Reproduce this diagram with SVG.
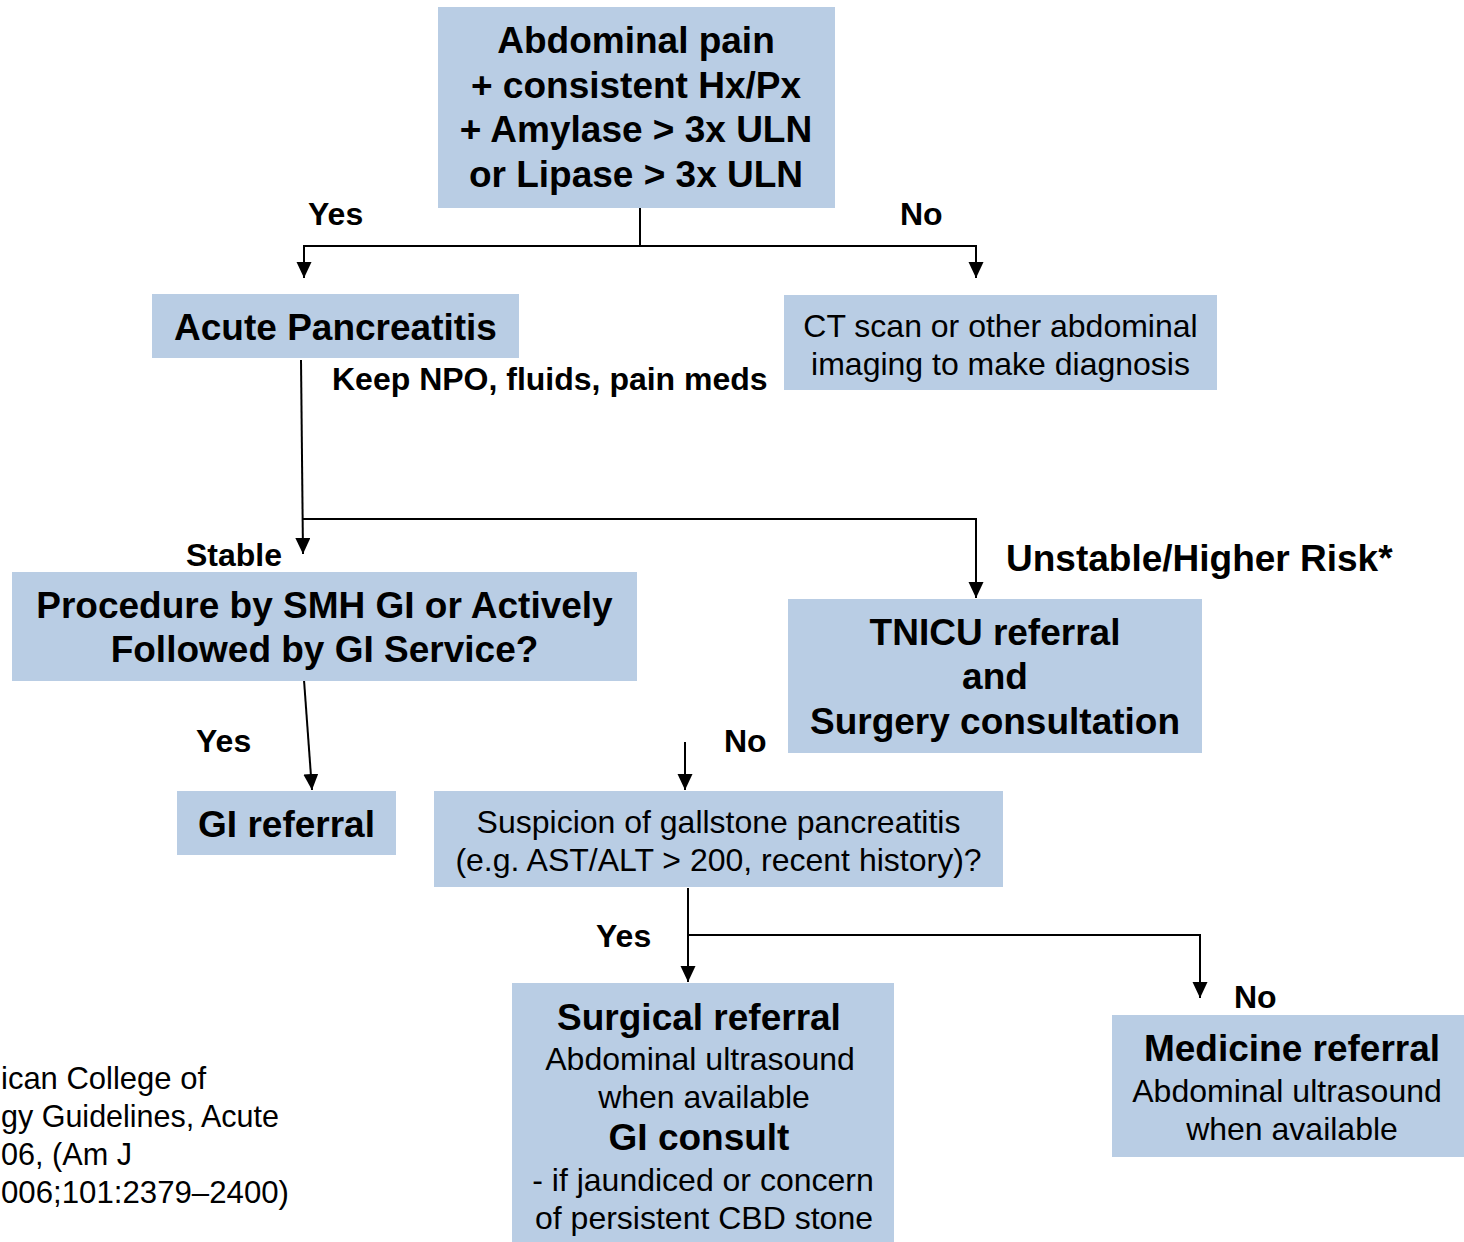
<svg xmlns="http://www.w3.org/2000/svg" width="1464" height="1242" viewBox="0 0 1464 1242">
<style>
.box{fill:#b9cde4}
.b{font-family:"Liberation Sans",Arial,sans-serif;font-weight:bold;font-size:37px;fill:#000;text-anchor:middle}
.n{font-family:"Liberation Sans",Arial,sans-serif;font-size:32px;fill:#000;text-anchor:middle}
.lbl{font-family:"Liberation Sans",Arial,sans-serif;font-weight:bold;font-size:32px;fill:#000}
.ref{font-family:"Liberation Sans",Arial,sans-serif;font-size:32px;fill:#000}
.c{fill:none;stroke:#000;stroke-width:2}
</style>
<defs>
<marker id="ah" markerUnits="userSpaceOnUse" markerWidth="17" markerHeight="18" refX="16" refY="7.5" orient="auto">
<path d="M0,0 L16,7.5 L0,15 Z" fill="#000"/>
</marker>
</defs>
<rect width="1464" height="1242" fill="#fff"/>
<g id="connectors">
<polyline class="c" points="640,200 640,246"/>
<polyline class="c" points="640,246 304,246 304,278" marker-end="url(#ah)"/>
<polyline class="c" points="640,246 976,246 976,278" marker-end="url(#ah)"/>
<polyline class="c" points="301,360 303,554" marker-end="url(#ah)"/>
<polyline class="c" points="303,519 976,519 976,598" marker-end="url(#ah)"/>
<polyline class="c" points="304,680 312,790" marker-end="url(#ah)"/>
<polyline class="c" points="685,742 685,790" marker-end="url(#ah)"/>
<polyline class="c" points="688,888 688,982" marker-end="url(#ah)"/>
<polyline class="c" points="688,935 1200,935 1200,998" marker-end="url(#ah)"/>
</g>
<g id="n-abdominal">
<rect class="box" x="438" y="7" width="397" height="201"/>
<text class="b" x="636" y="53">Abdominal pain</text>
<text class="b" x="636" y="98">+ consistent Hx/Px</text>
<text class="b" x="636" y="142">+ Amylase &gt; 3x ULN</text>
<text class="b" x="636" y="187">or Lipase &gt; 3x ULN</text>
</g>
<g id="n-acute">
<rect class="box" x="152" y="294" width="367" height="64"/>
<text class="b" x="335.5" y="340">Acute Pancreatitis</text>
</g>
<g id="n-ct">
<rect class="box" x="784" y="295" width="433" height="95"/>
<text class="n" x="1000.5" y="337">CT scan or other abdominal</text>
<text class="n" x="1000.5" y="375">imaging to make diagnosis</text>
</g>
<g id="n-procedure">
<rect class="box" x="12" y="572" width="625" height="109"/>
<text class="b" x="324.5" y="618">Procedure by SMH GI or Actively</text>
<text class="b" x="324.5" y="662">Followed by GI Service?</text>
</g>
<g id="n-tnicu">
<rect class="box" x="788" y="599" width="414" height="154"/>
<text class="b" x="995" y="645">TNICU referral</text>
<text class="b" x="995" y="689">and</text>
<text class="b" x="995" y="734">Surgery consultation</text>
</g>
<g id="n-gi">
<rect class="box" x="177" y="791" width="219" height="64"/>
<text class="b" x="286.5" y="837">GI referral</text>
</g>
<g id="n-suspicion">
<rect class="box" x="434" y="791" width="569" height="96"/>
<text class="n" x="718.5" y="833">Suspicion of gallstone pancreatitis</text>
<text class="n" x="718.5" y="871">(e.g. AST/ALT &gt; 200, recent history)?</text>
</g>
<g id="n-surgical">
<rect class="box" x="512" y="983" width="382" height="259"/>
<text class="b" x="699" y="1030">Surgical referral</text>
<text class="n" x="700" y="1070">Abdominal ultrasound</text>
<text class="n" x="704" y="1108">when available</text>
<text class="b" x="699" y="1150">GI consult</text>
<text class="n" x="703" y="1191">- if jaundiced or concern</text>
<text class="n" x="704" y="1229">of persistent CBD stone</text>
</g>
<g id="n-medicine">
<rect class="box" x="1112" y="1015" width="352" height="142"/>
<text class="b" x="1292" y="1061">Medicine referral</text>
<text class="n" x="1287" y="1102">Abdominal ultrasound</text>
<text class="n" x="1292" y="1140">when available</text>
</g>
<g id="labels">
<text class="lbl" x="308" y="225">Yes</text>
<text class="lbl" x="900" y="225">No</text>
<text class="lbl" x="332" y="390">Keep NPO, fluids, pain meds</text>
<text class="lbl" x="186" y="566">Stable</text>
<text class="lbl" x="1006" y="571" style="font-size:37px">Unstable/Higher Risk*</text>
<text class="lbl" x="196" y="752">Yes</text>
<text class="lbl" x="724" y="752">No</text>
<text class="lbl" x="596" y="947">Yes</text>
<text class="lbl" x="1234" y="1008">No</text>
</g>
<g id="reference">
<text class="ref" x="1" y="1089" textLength="205" lengthAdjust="spacingAndGlyphs">ican College of</text>
<text class="ref" x="1" y="1127" textLength="278" lengthAdjust="spacingAndGlyphs">gy Guidelines, Acute</text>
<text class="ref" x="1" y="1165" textLength="131" lengthAdjust="spacingAndGlyphs">06, (Am J</text>
<text class="ref" x="1" y="1203" textLength="288" lengthAdjust="spacingAndGlyphs">006;101:2379–2400)</text>
</g>
</svg>
